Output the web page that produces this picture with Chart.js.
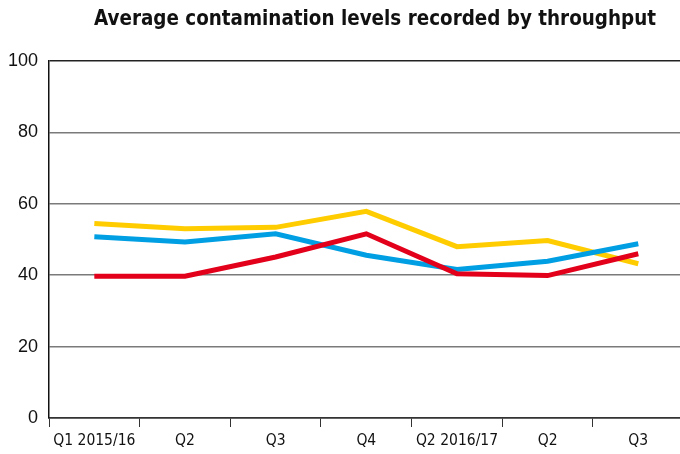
<!DOCTYPE html>
<html>
<head>
<meta charset="utf-8">
<script src="https://cdn.jsdelivr.net/npm/chart.js@4"></script>
<style>
  html, body { margin: 0; padding: 0; background: #fff; }
  #wrap { width: 680px; height: 454px; position: relative; }
</style>
</head>
<body>
<div id="wrap"><canvas id="chart"></canvas></div>
<script>
const titleText = "Average contamination levels recorded by throughput";
const quarters = ["Q1 2015/16", "Q2", "Q3", "Q4", "Q2 2016/17", "Q2", "Q3"];
const yTicks = [0, 20, 40, 60, 80, 100];

const redSeries = [39.7, 39.7, 45.1, 51.6, 40.4, 39.9, 46.0];
const blueSeries = [50.8, 49.3, 51.6, 45.6, 41.6, 43.9, 48.8];
const yellowSeries = [54.5, 53.0, 53.4, 57.9, 48.0, 49.7, 43.2];

const FONT = "'Liberation Sans Narrow', 'DejaVu Sans Condensed', 'Roboto Condensed', 'Liberation Sans', sans-serif";

function pts(arr) {
  return arr.map((v, i) => ({ x: i, y: v }));
}

// title drawn by hand so it sits where the original has it
const titlePlugin = {
  id: "customTitle",
  afterDraw(chart) {
    const ctx = chart.ctx;
    ctx.save();
    ctx.font = "bold 21px " + FONT;
    ctx.fillStyle = "#111";
    ctx.textAlign = "center";
    ctx.textBaseline = "middle";
    ctx.fillText(titleText, 375, 20, 562);
    ctx.restore();
  },
};

const lineStyle = {
  borderWidth: 5,
  pointRadius: 0,
  tension: 0,
  fill: false,
  borderCapStyle: "butt",
  borderJoinStyle: "miter",
};

new Chart(document.getElementById("chart"), {
  type: "line",
  data: {
    datasets: [
      { label: "red", data: pts(redSeries), borderColor: "#e2001a", ...lineStyle },
      { label: "blue", data: pts(blueSeries), borderColor: "#009fe3", ...lineStyle },
      { label: "yellow", data: pts(yellowSeries), borderColor: "#ffcc00", ...lineStyle },
    ],
  },
  plugins: [titlePlugin],
  options: {
    animation: false,
    responsive: true,
    maintainAspectRatio: false,
    layout: { padding: { top: 61, left: 0, right: 0, bottom: 0 } },
    plugins: { legend: { display: false }, tooltip: { enabled: false }, title: { display: false } },
    scales: {
      x: {
        type: "linear",
        min: -0.5,
        max: 6.46,
        afterBuildTicks(scale) {
          const t = [];
          for (let i = 0; i < quarters.length; i++) {
            t.push({ value: i - 0.5 });
            t.push({ value: i });
          }
          scale.ticks = t;
        },
        afterFit(scale) { scale.height = 36; },
        ticks: {
          autoSkip: false,
          maxRotation: 0,
          padding: 5,
          color: "#111",
          font: { family: FONT, size: 15.5 },
          callback: (v) => (Number.isInteger(v) ? quarters[v] : ""),
        },
        grid: {
          drawOnChartArea: false,
          tickLength: 9,
          tickWidth: 1,
          tickColor: (ctx) => (ctx.tick && Number.isInteger(ctx.tick.value) ? "rgba(0,0,0,0)" : "#333"),
        },
        border: { display: true, color: "#333", width: 1.5 },
      },
      y: {
        min: 0,
        max: 100,
        afterBuildTicks(scale) {
          scale.ticks = yTicks.map((v) => ({ value: v }));
        },
        afterFit(scale) { scale.width = 49; },
        ticks: {
          padding: 11,
          color: "#111",
          font: { family: "'Liberation Sans', 'Open Sans', sans-serif", size: 18 },
        },
        grid: {
          drawTicks: false,
          lineWidth: 1.5,
          color: (ctx) => (ctx.tick && ctx.tick.value === 100 ? "#222" : ctx.tick && ctx.tick.value === 0 ? "#333" : "#7a7a7a"),
        },
        border: { display: true, color: "#111", width: 1.5 },
      },
    },
  },
});
</script>
</body>
</html>
